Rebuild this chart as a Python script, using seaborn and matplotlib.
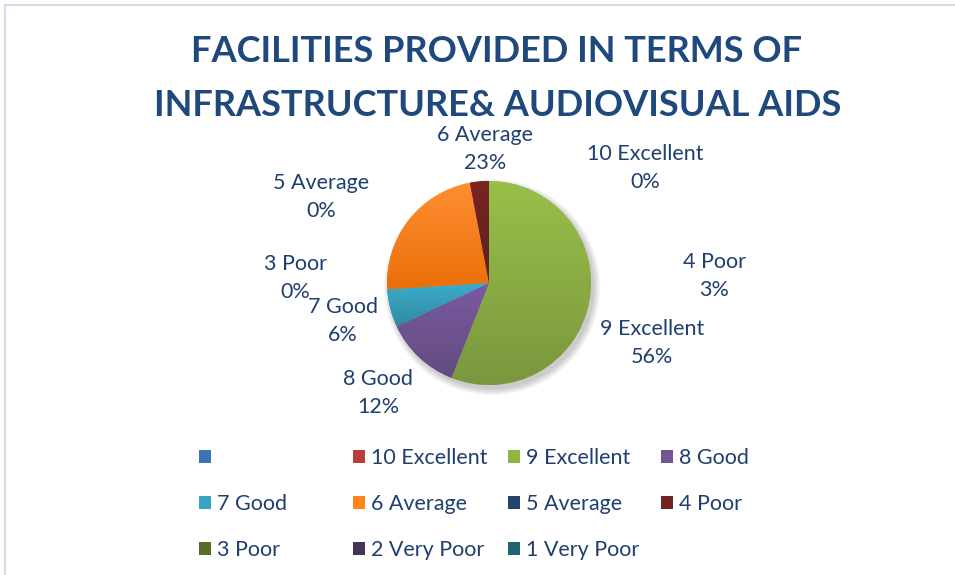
import colorsys
import numpy as np
import matplotlib
matplotlib.use("Agg")
import matplotlib.pyplot as plt
import seaborn as sns
from matplotlib.colors import to_rgb, LinearSegmentedColormap
from matplotlib.patches import Patch, Rectangle, Circle

# data
categories = ["", "10 Excellent", "9 Excellent", "8 Good", "7 Good", "6 Average",
              "5 Average", "4 Poor", "3 Poor", "2 Very Poor", "1 Very Poor"]
shares = [0, 0, 56, 12, 6, 23, 0, 3, 0, 0, 0]
colors = ["#4F81BD", "#C0504D", "#9BBB59", "#8064A2", "#4BACC6", "#F79646",
          "#2C4D75", "#772C2A", "#5F7530", "#4D3B62", "#276A7C"]
labelled = ["6 Average", "10 Excellent", "5 Average", "3 Poor", "7 Good",
            "4 Poor", "9 Excellent", "8 Good"]

# where the data labels sit (pixels, from top-left)
label_pos = {"6 Average": (485, 149), "10 Excellent": (645, 168),
             "5 Average": (321, 197), "3 Poor": (295, 278),
             "7 Good": (343, 321), "4 Poor": (714, 276),
             "9 Excellent": (652, 343), "8 Good": (378, 393)}

sns.set_theme(style="white")
plt.rcParams['font.family'] = ['Lato', 'DejaVu Sans']

W, H = 955, 575
fig = plt.figure(figsize=(W / 100, H / 100), dpi=100)
fig.patch.set_facecolor("white")

# light chart frame
fig.patches.append(Rectangle((5 / W, -0.05), 1.1, 1 - 5 / H + 0.05,
                             transform=fig.transFigure, fill=False,
                             edgecolor="#D5DEE8", linewidth=1.5))

text_col = "#1F3F6E"
title_col = "#1F497D"
fig.text(497 / W, 1 - 52 / H, "FACILITIES PROVIDED IN TERMS OF",
         ha="center", va="center", fontsize=26, fontweight="bold",
         color=title_col)
fig.text(498 / W, 1 - 105 / H, "INFRASTRUCTURE& AUDIOVISUAL AIDS",
         ha="center", va="center", fontsize=26, fontweight="bold",
         color=title_col)


def shade(c, lf, sf):
    h, l, s = colorsys.rgb_to_hls(*to_rgb(c))
    return colorsys.hls_to_rgb(h, min(1, l * lf), min(1, s * sf))


# pie: centre (489, 283), radius 102 px
cx, cy, r = 489, 283, 102
ax = fig.add_axes([(cx - r) / W, 1 - (cy + r) / H, 2 * r / W, 2 * r / H])
ax.set_xlim(-1, 1)
ax.set_ylim(-1, 1)
# soft shadow under the pie
for k in range(6):
    ax.add_patch(Circle((0.03, -0.04), 1.0 + 0.012 * k, facecolor="#000000",
                        edgecolor="none", alpha=0.035, zorder=0,
                        clip_on=False))
wedges, _ = ax.pie(shares, colors=colors, startangle=90, counterclock=False,
                   wedgeprops=dict(linewidth=0))
ax.set_xlim(-1, 1)
ax.set_ylim(-1, 1)
ax.set_aspect("equal")
ax.axis("off")

# vertical gradient inside every slice, like the Office style
grad = np.linspace(0, 1, 256).reshape(-1, 1)
for w, c, v in zip(wedges, colors, shares):
    if v == 0:
        continue
    bb = w.get_path().get_extents()
    cmap = LinearSegmentedColormap.from_list(
        "g", [shade(c, 0.77, 1.0), shade(c, 0.96, 1.15)])
    im = ax.imshow(grad, cmap=cmap, extent=(bb.x0, bb.x1, bb.y0, bb.y1),
                   origin="lower", aspect="auto", zorder=w.get_zorder() + 0.1)
    im.set_clip_path(w)
ax.set_xlim(-1, 1)
ax.set_ylim(-1, 1)

for name in labelled:
    share = shares[categories.index(name)]
    x, y = label_pos[name]
    fig.text(x / W, 1 - y / H, f"{name}\n{share}%", ha="center", va="center",
             fontsize=15.5, color=text_col, linespacing=1.45)

# legend, row-major in four columns
handles = [Patch(facecolor=shade(c, 0.9, 1.1), edgecolor="none") for c in colors]
col_x = [199, 353, 508, 661]
for j in range(4):
    idx = list(range(j, len(categories), 4))
    leg = fig.legend([handles[i] for i in idx], [categories[i] for i in idx],
                     loc="upper left", bbox_to_anchor=(col_x[j] / W, 1 - 448 / H),
                     frameon=False, fontsize=15.5, handlelength=0.55,
                     handleheight=0.55, handletextpad=0.3, labelspacing=1.2,
                     borderpad=0, borderaxespad=0)
    for t in leg.get_texts():
        t.set_color(text_col)

fig.savefig("out.png", dpi=100)
plt.close(fig)
